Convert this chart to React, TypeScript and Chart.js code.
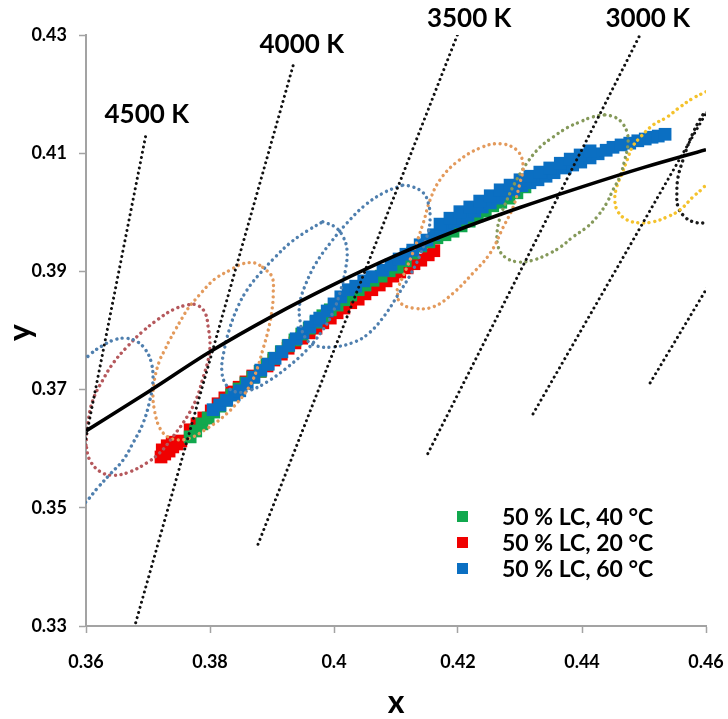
import { useEffect, useRef } from "react";
import { Chart, registerables } from "chart.js";

Chart.register(...registerables);

// ---------- axes ----------
const X_TICKS = [0.36, 0.38, 0.4, 0.42, 0.44, 0.46];
const X_TICK_LABELS = ["0.36", "0.38", "0.4", "0.42", "0.44", "0.46"];
const Y_TICKS = [0.33, 0.35, 0.37, 0.39, 0.41, 0.43];
const Y_TICK_LABELS = ["0.33", "0.35", "0.37", "0.39", "0.41", "0.43"];

// ---------- Planckian locus ----------
const LOCUS_X = [0.36, 0.37, 0.38, 0.39, 0.4, 0.41, 0.42, 0.43, 0.44, 0.45, 0.46];
const LOCUS_Y = [0.363, 0.3696, 0.3764, 0.3824, 0.3878, 0.3927, 0.397, 0.4008, 0.4043, 0.4076, 0.4106];

// ---------- isotemperature lines ----------
const ISO_4500_X = [0.3696, 0.359];
const ISO_4500_Y = [0.4128, 0.3566];
const ISO_4000_X = [0.3934, 0.3676];
const ISO_4000_Y = [0.4248, 0.329];
const ISO_3500_X = [0.4199, 0.3877];
const ISO_3500_Y = [0.43, 0.3437];
const ISO_3000_X = [0.4492, 0.415];
const ISO_3000_Y = [0.4297, 0.3589];
const ISO_2700_X = [0.462, 0.432];
const ISO_2700_Y = [0.4204, 0.3657];
const ISO_2500_X = [0.462, 0.4508];
const ISO_2500_Y = [0.3904, 0.3708];

const CCT_LABELS = ["4500 K", "4000 K", "3500 K", "3000 K"];
const CCT_LABEL_X = [0.3698, 0.3948, 0.4218, 0.4506];
const CCT_LABEL_Y = [0.4165, 0.4283, 0.4327, 0.4327];

// ---------- ellipses ----------
const E1_X = [0.3566, 0.3587, 0.3606, 0.3626, 0.3645, 0.3663, 0.3681, 0.3695, 0.3705, 0.3708, 0.3703, 0.3692, 0.3676, 0.366, 0.3639, 0.3619, 0.36, 0.3577, 0.355, 0.3545, 0.3566];
const E1_Y = [0.3682, 0.3737, 0.3759, 0.3774, 0.3784, 0.3787, 0.3782, 0.3769, 0.3747, 0.3716, 0.3682, 0.3643, 0.361, 0.3581, 0.3557, 0.3534, 0.351, 0.3488, 0.3513, 0.3598, 0.3682];

const E2_X = [0.36, 0.3603, 0.3611, 0.3627, 0.3644, 0.3666, 0.369, 0.3715, 0.374, 0.3763, 0.3779, 0.3792, 0.3797, 0.38, 0.3797, 0.3789, 0.3779, 0.3763, 0.374, 0.3719, 0.3698, 0.3671, 0.3644, 0.3623, 0.3606, 0.36];
const E2_Y = [0.3606, 0.3643, 0.3682, 0.3716, 0.3745, 0.3772, 0.3797, 0.3818, 0.3835, 0.3843, 0.3843, 0.383, 0.3806, 0.3779, 0.375, 0.3721, 0.3687, 0.3654, 0.362, 0.3593, 0.3576, 0.3561, 0.3555, 0.3561, 0.3581, 0.3606];

const E3_X = [0.3885, 0.39, 0.3902, 0.39, 0.3894, 0.3885, 0.3877, 0.3865, 0.3845, 0.3819, 0.3792, 0.3768, 0.3748, 0.3732, 0.3719, 0.3711, 0.3708, 0.3711, 0.3719, 0.3727, 0.3735, 0.3744, 0.3755, 0.3765, 0.3776, 0.3787, 0.38, 0.3813, 0.3832, 0.3853, 0.3873, 0.3885];
const E3_Y = [0.3907, 0.3891, 0.3863, 0.3835, 0.3801, 0.3767, 0.3738, 0.3708, 0.3679, 0.3652, 0.3632, 0.3618, 0.3615, 0.362, 0.3635, 0.3662, 0.3691, 0.372, 0.375, 0.3767, 0.3784, 0.3801, 0.3821, 0.3838, 0.3852, 0.3865, 0.388, 0.3891, 0.3902, 0.3913, 0.3914, 0.3907];

const E4_X = [0.3982, 0.4002, 0.4015, 0.4021, 0.4019, 0.4011, 0.3998, 0.3982, 0.3956, 0.3924, 0.3892, 0.3865, 0.3842, 0.3826, 0.3819, 0.3823, 0.3831, 0.3844, 0.386, 0.3881, 0.3905, 0.3929, 0.3956, 0.3982];
const E4_Y = [0.3984, 0.3975, 0.3958, 0.3936, 0.3906, 0.3869, 0.383, 0.3801, 0.3767, 0.3737, 0.3713, 0.3699, 0.3696, 0.3708, 0.3733, 0.3767, 0.3801, 0.3838, 0.3869, 0.3897, 0.3924, 0.3948, 0.3968, 0.3984];

const E5_X = [0.4111, 0.4127, 0.4144, 0.4152, 0.4155, 0.4152, 0.4139, 0.4123, 0.4103, 0.4082, 0.4058, 0.4034, 0.3998, 0.3969, 0.3953, 0.3945, 0.3945, 0.3955, 0.3971, 0.3994, 0.4021, 0.405, 0.4082, 0.4111];
const E5_Y = [0.4046, 0.4043, 0.4033, 0.4016, 0.3992, 0.3967, 0.3928, 0.3894, 0.386, 0.3826, 0.3797, 0.3781, 0.3772, 0.3775, 0.3789, 0.3818, 0.3847, 0.388, 0.3914, 0.3948, 0.3982, 0.4012, 0.4034, 0.4046];

const E6_X = [0.4102, 0.4127, 0.4144, 0.4155, 0.4171, 0.4198, 0.4236, 0.4268, 0.4295, 0.4305, 0.43, 0.4289, 0.4273, 0.4252, 0.4224, 0.4192, 0.416, 0.4127, 0.4106, 0.4102];
const E6_Y = [0.3869, 0.3931, 0.3982, 0.4021, 0.4055, 0.4085, 0.4109, 0.4116, 0.4105, 0.408, 0.405, 0.4009, 0.3975, 0.3931, 0.3897, 0.3863, 0.384, 0.3838, 0.3848, 0.3869];

const E7_X = [0.4437, 0.4453, 0.4465, 0.4473, 0.4474, 0.4469, 0.4461, 0.445, 0.444, 0.4424, 0.4408, 0.4385, 0.4365, 0.4345, 0.4321, 0.4297, 0.4276, 0.4265, 0.4263, 0.4268, 0.4279, 0.4292, 0.4311, 0.4332, 0.4353, 0.4376, 0.4397, 0.4416, 0.4437];
const E7_Y = [0.4165, 0.4161, 0.4151, 0.4134, 0.4114, 0.4089, 0.406, 0.4038, 0.4016, 0.3992, 0.3975, 0.3958, 0.3941, 0.3929, 0.3919, 0.3916, 0.3924, 0.3941, 0.3965, 0.3992, 0.4021, 0.405, 0.4083, 0.411, 0.4127, 0.4143, 0.4153, 0.4161, 0.4165];

const E8_X = [0.46, 0.4579, 0.4558, 0.4537, 0.4515, 0.4494, 0.4481, 0.4473, 0.4465, 0.4456, 0.4453, 0.4458, 0.4473, 0.4494, 0.4515, 0.4537, 0.4558, 0.4579, 0.4595, 0.4623, 0.4647, 0.4639, 0.4615, 0.46];
const E8_Y = [0.4204, 0.4193, 0.4178, 0.4161, 0.4148, 0.4127, 0.411, 0.4089, 0.4067, 0.4043, 0.4021, 0.4001, 0.3987, 0.3982, 0.3984, 0.3992, 0.4004, 0.4026, 0.4041, 0.4072, 0.4122, 0.419, 0.421, 0.4204];

const E9_X = [0.4595, 0.4587, 0.4579, 0.4571, 0.4563, 0.4555, 0.4553, 0.4555, 0.4566, 0.4579, 0.4595, 0.4623, 0.4647, 0.4639, 0.4615, 0.4595];
const E9_Y = [0.4165, 0.4151, 0.4134, 0.4114, 0.4089, 0.406, 0.4033, 0.4009, 0.3992, 0.3984, 0.3982, 0.3987, 0.4038, 0.4122, 0.4173, 0.4165];

// ---------- measured series ----------
const SERIES_NAMES = ["50 % LC, 40 °C", "50 % LC, 20 °C", "50 % LC, 60 °C"];

const LC40_X = [0.3768, 0.3777, 0.3787, 0.3797, 0.3806, 0.3816, 0.3826, 0.3835, 0.3847, 0.3858, 0.3869, 0.3881, 0.3892, 0.3903, 0.3915, 0.3926, 0.3937, 0.3948, 0.396, 0.3971, 0.3982, 0.3994, 0.4005, 0.4016, 0.4027, 0.4039, 0.405, 0.4063, 0.4076, 0.4089, 0.4102, 0.4115, 0.4127, 0.414, 0.4153, 0.4166, 0.4179, 0.4192, 0.4205, 0.4218, 0.4231, 0.4244, 0.4256, 0.4269, 0.4282, 0.4295, 0.4308];
const LC40_Y = [0.362, 0.363, 0.3642, 0.3652, 0.3662, 0.3672, 0.3682, 0.3691, 0.3701, 0.3711, 0.3721, 0.3731, 0.3743, 0.3753, 0.3764, 0.3774, 0.3784, 0.3794, 0.3804, 0.3814, 0.3825, 0.3835, 0.3843, 0.3852, 0.386, 0.3869, 0.3877, 0.3885, 0.3892, 0.3901, 0.3907, 0.3918, 0.3931, 0.3943, 0.395, 0.3957, 0.3962, 0.3968, 0.3977, 0.3985, 0.3994, 0.4002, 0.4011, 0.4017, 0.4024, 0.4033, 0.4043];

const LC20_X = [0.3721, 0.3727, 0.3734, 0.374, 0.3747, 0.3753, 0.3723, 0.3731, 0.3739, 0.3768, 0.3779, 0.379, 0.3802, 0.3813, 0.3824, 0.3835, 0.3847, 0.3858, 0.3869, 0.3881, 0.3892, 0.3903, 0.3915, 0.3926, 0.3937, 0.3948, 0.396, 0.3971, 0.3982, 0.3994, 0.4005, 0.4016, 0.4027, 0.4039, 0.405, 0.4061, 0.4073, 0.4084, 0.4095, 0.4106, 0.4118, 0.4129, 0.414, 0.4152, 0.4161];
const LC20_Y = [0.3586, 0.3591, 0.3596, 0.3603, 0.3608, 0.3613, 0.3598, 0.3605, 0.3611, 0.3632, 0.3642, 0.3652, 0.3664, 0.3676, 0.3686, 0.3696, 0.3704, 0.3713, 0.3723, 0.3731, 0.374, 0.375, 0.376, 0.377, 0.3779, 0.3787, 0.3796, 0.3804, 0.3813, 0.3821, 0.383, 0.3838, 0.3847, 0.3853, 0.3862, 0.3869, 0.3877, 0.3884, 0.3892, 0.3899, 0.3906, 0.3913, 0.3919, 0.3928, 0.3935];

const LC60_X = [0.3805, 0.3816, 0.3827, 0.3839, 0.3848, 0.386, 0.3871, 0.3882, 0.3894, 0.3905, 0.3916, 0.3927, 0.3939, 0.395, 0.3961, 0.3971, 0.3977, 0.3989, 0.4, 0.4011, 0.4023, 0.4035, 0.4048, 0.4061, 0.4079, 0.4092, 0.4105, 0.4116, 0.4127, 0.4139, 0.415, 0.4161, 0.4173, 0.4184, 0.4195, 0.4206, 0.4216, 0.4227, 0.4239, 0.4252, 0.4265, 0.4277, 0.429, 0.4303, 0.4316, 0.4329, 0.4342, 0.4355, 0.4373, 0.4385, 0.4398, 0.4413, 0.4426, 0.4439, 0.445, 0.4463, 0.4477, 0.449, 0.4502, 0.4513, 0.4523, 0.4534,
  0.4171, 0.4187, 0.4203, 0.4219, 0.4235, 0.4252, 0.4268, 0.4284, 0.43, 0.4316, 0.4332, 0.4348, 0.4365, 0.4381, 0.4397, 0.4413];
const LC60_Y = [0.3666, 0.3674, 0.3682, 0.3691, 0.3698, 0.371, 0.3721, 0.3733, 0.3743, 0.3753, 0.3764, 0.3775, 0.3786, 0.3796, 0.3806, 0.3816, 0.3821, 0.3833, 0.3845, 0.3857, 0.3869, 0.3875, 0.3884, 0.3891, 0.3902, 0.3911, 0.3921, 0.3929, 0.3936, 0.3945, 0.3953, 0.3962, 0.397, 0.3977, 0.3984, 0.399, 0.3995, 0.4002, 0.4009, 0.4016, 0.4024, 0.4031, 0.4038, 0.4045, 0.405, 0.4055, 0.4061, 0.4067, 0.4075, 0.408, 0.4085, 0.4092, 0.4099, 0.4105, 0.411, 0.4114, 0.4117, 0.4121, 0.4124, 0.4127, 0.4129, 0.4132,
  0.398, 0.399, 0.4001, 0.4009, 0.4019, 0.4028, 0.4038, 0.4046, 0.4055, 0.4061, 0.4068, 0.4075, 0.4083, 0.409, 0.4097, 0.4104];

const FONT = "Lato, 'Open Sans', 'DejaVu Sans', sans-serif";
const AXIS_GRAY = "#a3a3a3";
const C_BLUEGRAY = "#4f7fae";
const C_REDBROWN = "#b5585c";
const C_TAN = "#e39a5c";
const C_OLIVE = "#85995a";
const C_YELLOW = "#f4c22c";
const C_GREEN = "#11a84e";
const C_RED = "#f00000";
const C_BLUE = "#0b6fc2";

function pts(xs: number[], ys: number[]) {
  return xs.map((x, i) => ({ x, y: ys[i] }));
}

export default function App() {
  const ref = useRef<HTMLCanvasElement | null>(null);

  useEffect(() => {
    const canvas = ref.current;
    if (!canvas) return;

    const dotted = (xs: number[], ys: number[], color: string, width: number, gap: number, tension: number) => ({
      data: pts(xs, ys),
      showLine: true,
      borderColor: color,
      backgroundColor: color,
      borderWidth: width,
      borderDash: [0.01, gap],
      borderCapStyle: "round",
      pointRadius: 0,
      pointHoverRadius: 0,
      tension,
      fill: false,
      order: 1,
    });

    const markers = (xs: number[], ys: number[], color: string, order: number) => ({
      data: pts(xs, ys),
      showLine: false,
      pointStyle: "rect",
      pointRadius: 9,
      pointHoverRadius: 9,
      pointBorderWidth: 0,
      pointBackgroundColor: color,
      backgroundColor: color,
      borderColor: color,
      order,
    });

    const overlay = {
      id: "overlay",
      afterDraw(chart: any) {
        const { ctx, chartArea } = chart;
        const xs = chart.scales.x;
        const ys = chart.scales.y;
        ctx.save();
        ctx.fillStyle = "#000";
        // CCT labels
        ctx.font = `bold 26px ${FONT}`;
        ctx.textAlign = "center";
        ctx.textBaseline = "middle";
        CCT_LABELS.forEach((t, i) => {
          ctx.fillText(t, xs.getPixelForValue(CCT_LABEL_X[i]), ys.getPixelForValue(CCT_LABEL_Y[i]));
        });
        // axis titles
        ctx.font = `bold 32px ${FONT}`;
        ctx.textBaseline = "alphabetic";
        ctx.fillText("x", (chartArea.left + chartArea.right) / 2, 713);
        ctx.save();
        ctx.translate(31, (chartArea.top + chartArea.bottom) / 2 + 2);
        ctx.rotate(-Math.PI / 2);
        ctx.fillText("y", 0, 0);
        ctx.restore();
        // legend
        const colors = [C_GREEN, C_RED, C_BLUE];
        ctx.font = `bold 23px ${FONT}`;
        ctx.textAlign = "left";
        SERIES_NAMES.forEach((name, i) => {
          const base = chartArea.bottom - 101 + i * 26;
          ctx.fillStyle = colors[i];
          ctx.fillRect(chartArea.left + 371, base - 14, 11, 11);
          ctx.fillStyle = "#000";
          ctx.fillText(name, chartArea.left + 416, base);
        });
        ctx.restore();
      },
    };

    const chart = new Chart(canvas, {
      type: "scatter",
      data: {
        datasets: [
          {
            data: pts(LOCUS_X, LOCUS_Y),
            showLine: true,
            borderColor: "#000",
            borderWidth: 3.6,
            pointRadius: 0,
            pointHoverRadius: 0,
            cubicInterpolationMode: "monotone",
            fill: false,
            order: 0,
          } as any,
          dotted(ISO_4500_X, ISO_4500_Y, "#111", 3, 5.3, 0),
          dotted(ISO_4000_X, ISO_4000_Y, "#111", 3, 5.3, 0),
          dotted(ISO_3500_X, ISO_3500_Y, "#111", 3, 5.3, 0),
          dotted(ISO_3000_X, ISO_3000_Y, "#111", 3, 5.3, 0),
          dotted(ISO_2700_X, ISO_2700_Y, "#111", 3, 5.3, 0),
          dotted(ISO_2500_X, ISO_2500_Y, "#111", 3, 5.3, 0),
          dotted(E1_X, E1_Y, C_BLUEGRAY, 3.4, 5.6, 0.4),
          dotted(E2_X, E2_Y, C_REDBROWN, 3.4, 5.6, 0.4),
          dotted(E3_X, E3_Y, C_TAN, 3.4, 5.6, 0.4),
          dotted(E4_X, E4_Y, C_BLUEGRAY, 3.4, 5.6, 0.4),
          dotted(E5_X, E5_Y, C_BLUEGRAY, 3.4, 5.6, 0.4),
          dotted(E6_X, E6_Y, C_TAN, 3.4, 5.6, 0.4),
          dotted(E7_X, E7_Y, C_OLIVE, 3.4, 5.6, 0.4),
          dotted(E8_X, E8_Y, C_YELLOW, 3.4, 5.6, 0.4),
          dotted(E9_X, E9_Y, "#1a1a1a", 3.4, 5.6, 0.4),
          markers(LC60_X, LC60_Y, C_BLUE, 10),
          markers(LC40_X, LC40_Y, C_GREEN, 11),
          markers(LC20_X, LC20_Y, C_RED, 12),
        ] as any,
      },
      options: {
        responsive: false,
        animation: false,
        events: [],
        layout: { padding: { top: 35, right: 22, left: 0, bottom: 0 } },
        elements: { line: { capBezierPoints: false } },
        plugins: { legend: { display: false }, tooltip: { enabled: false } },
        scales: {
          x: {
            type: "linear",
            min: 0.36,
            max: 0.46,
            afterBuildTicks: (s: any) => {
              s.ticks = X_TICKS.map((v) => ({ value: v }));
            },
            afterFit: (s: any) => {
              s.height = 93;
              s.paddingLeft = 0;
              s.paddingRight = 0;
            },
            ticks: {
              callback: (_v: any, i: number) => X_TICK_LABELS[i],
              font: { family: FONT, size: 18, weight: "bold" },
              color: "#000",
              padding: 18,
              maxRotation: 0,
              autoSkip: false,
            },
            grid: { drawOnChartArea: false, drawTicks: true, tickLength: 7, tickColor: AXIS_GRAY, tickWidth: 1.5, color: AXIS_GRAY },
            border: { display: true, color: AXIS_GRAY, width: 2 },
          },
          y: {
            type: "linear",
            min: 0.33,
            max: 0.43,
            afterBuildTicks: (s: any) => {
              s.ticks = Y_TICKS.map((v) => ({ value: v }));
            },
            afterFit: (s: any) => {
              s.width = 86;
              s.paddingTop = 0;
              s.paddingBottom = 0;
            },
            ticks: {
              callback: (_v: any, i: number) => Y_TICK_LABELS[i],
              font: { family: FONT, size: 18, weight: "bold" },
              color: "#000",
              padding: 12,
              autoSkip: false,
            },
            grid: { drawOnChartArea: false, drawTicks: true, tickLength: 7, tickColor: AXIS_GRAY, tickWidth: 1.5, color: AXIS_GRAY },
            border: { display: true, color: AXIS_GRAY, width: 2 },
          },
        },
      } as any,
      plugins: [overlay],
    });

    return () => chart.destroy();
  }, []);

  return (
    <div style={{ position: "fixed", left: 0, top: 0, width: 728, height: 719, background: "#fff" }}>
      <canvas ref={ref} width={728} height={719} style={{ display: "block" }} />
    </div>
  );
}
